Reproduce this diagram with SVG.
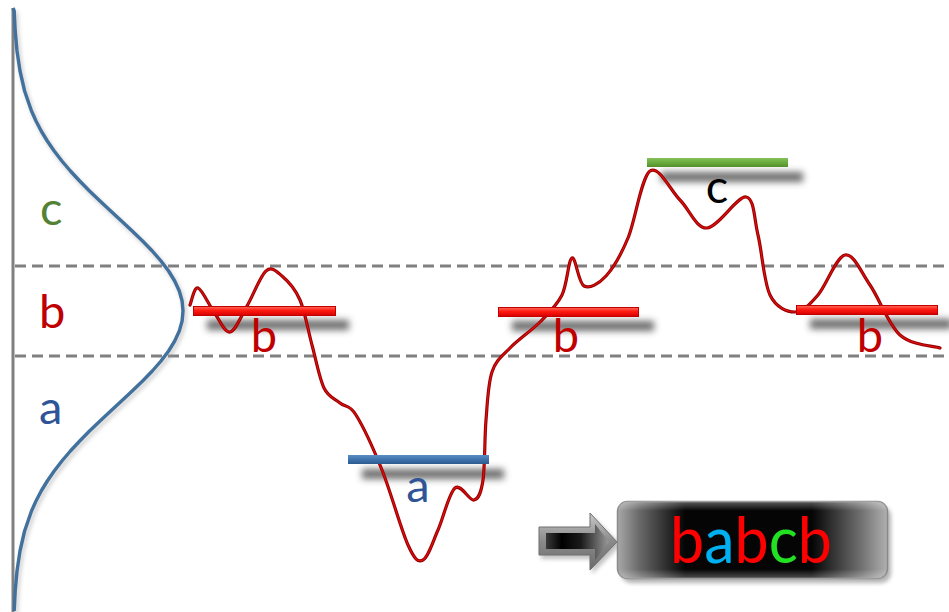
<svg xmlns="http://www.w3.org/2000/svg" width="949" height="612" viewBox="0 0 949 612">
  <style>
    .lbl { font-family: Lato, "Liberation Sans", sans-serif; font-size: 47px; }
    .dash { stroke: #808080; stroke-width: 3; stroke-dasharray: 11 6; fill: none; }
    .shadow { fill: #4a4a4a; opacity: 0.8; filter: url(#blur); }
  </style>
  <defs>
    <filter id="blur" x="-20%" y="-150%" width="140%" height="400%">
      <feGaussianBlur stdDeviation="3.5"/>
    </filter>
    <filter id="soft" x="-20%" y="-20%" width="140%" height="140%">
      <feGaussianBlur stdDeviation="2"/>
    </filter>
    <linearGradient id="redBar" x1="0" y1="0" x2="0" y2="1">
      <stop offset="0" stop-color="#ff6a5a"/>
      <stop offset="0.45" stop-color="#ff1a10"/>
      <stop offset="1" stop-color="#d40000"/>
    </linearGradient>
    <linearGradient id="blueBar" x1="0" y1="0" x2="0" y2="1">
      <stop offset="0" stop-color="#5b8cc4"/>
      <stop offset="0.5" stop-color="#3f72ad"/>
      <stop offset="1" stop-color="#2c5a8e"/>
    </linearGradient>
    <linearGradient id="greenBar" x1="0" y1="0" x2="0" y2="1">
      <stop offset="0" stop-color="#86c05a"/>
      <stop offset="0.5" stop-color="#6aab3e"/>
      <stop offset="1" stop-color="#548f2e"/>
    </linearGradient>
    <linearGradient id="boxFill" x1="0" y1="0" x2="1" y2="0">
      <stop offset="0" stop-color="#a8a8a8"/>
      <stop offset="0.08" stop-color="#6a6a6a"/>
      <stop offset="0.25" stop-color="#050505"/>
      <stop offset="0.72" stop-color="#050505"/>
      <stop offset="0.9" stop-color="#6f6f6f"/>
      <stop offset="1" stop-color="#b0b0b0"/>
    </linearGradient>
    <linearGradient id="boxGloss" x1="0" y1="0" x2="0" y2="1">
      <stop offset="0" stop-color="#fff" stop-opacity="0.35"/>
      <stop offset="0.12" stop-color="#fff" stop-opacity="0"/>
      <stop offset="0.88" stop-color="#fff" stop-opacity="0"/>
      <stop offset="1" stop-color="#fff" stop-opacity="0.3"/>
    </linearGradient>
    <linearGradient id="arrowOuter" x1="0" y1="0" x2="0" y2="1">
      <stop offset="0" stop-color="#c8c8c8"/>
      <stop offset="0.5" stop-color="#8a8a8a"/>
      <stop offset="1" stop-color="#6a6a6a"/>
    </linearGradient>
    <linearGradient id="arrowInner" x1="0" y1="0" x2="1" y2="0">
      <stop offset="0" stop-color="#3a3a3a"/>
      <stop offset="0.25" stop-color="#000"/>
      <stop offset="0.55" stop-color="#1a1a1a"/>
      <stop offset="1" stop-color="#9a9a9a"/>
    </linearGradient>
    <path id="gaussLine" d="M13,8 L14.2,11 L15.2,31 L17,51 L20,71 L24.6,91 L31.5,111 L36,121 L41.2,131 L47.3,141 L54.2,151 L61.9,161 L70.4,171 L79.7,181 L89.5,191 L100,201 L110.7,211 L121.5,221 L132.2,231 L142.6,241 L152.3,251 L161,261 L168.6,271 L174.7,281 L179.3,291 L182.1,301 L183,311 L182.1,321 L179.3,331 L174.7,341 L168.6,351 L161,361 L152.3,371 L142.6,381 L132.2,391 L121.5,401 L110.7,411 L100,421 L89.5,431 L79.7,441 L70.4,451 L61.9,461 L54.2,471 L47.3,481 L41.2,491 L36,501 L31.5,511 L24.6,531 L20,551 L17,571 L15.2,591 L14.2,611"/>
    <path id="traceLine" d="M190,305 C191.3,302.2 194,286.8 198,288 C202,289.2 208.7,304.7 214,312 C219.3,319.3 224.5,333 230,332 C235.5,331 241,316.2 247,306 C253,295.8 260.2,276 266,271 C271.8,266 276.3,271.2 282,276 C287.7,280.8 295,288.5 300,300 C305,311.5 308,330.3 312,345 C316,359.7 319.3,378.3 324,388 C328.7,397.7 334.7,398.5 340,403 C345.3,407.5 349,403.8 356,415 C363,426.2 373.3,448.3 382,470 C390.7,491.7 401.2,530 408,545 C414.8,560 418,562.5 423,560 C428,557.5 432.7,542 438,530 C443.3,518 449,493 455,488 C461,483 469.3,501.3 474,500 C478.7,498.7 481,493.3 483,480 C485,466.7 484.5,438 486,420 C487.5,402 488,384 492,372 C496,360 502,356.3 510,348 C518,339.7 531.3,330.8 540,322 C548.7,313.2 556.7,305.7 562,295 C567.3,284.3 568.3,259.5 572,258 C575.7,256.5 578.3,283 584,286 C589.7,289 598.7,284 606,276 C613.3,268 620.7,255.5 628,238 C635.3,220.5 641.3,177.3 650,171 C658.7,164.7 670.5,190.5 680,200 C689.5,209.5 696,228.5 707,228 C718,227.5 737.5,195.8 746,197 C754.5,198.2 754,218.7 758,235 C762,251.3 763.8,282.2 770,295 C776.2,307.8 787,312 795,312 C803,312 809.7,304.5 818,295 C826.3,285.5 836.3,256.7 845,255 C853.7,253.3 860.8,271.7 870,285 C879.2,298.3 888.3,324.5 900,335 C911.7,345.5 933.3,345.8 940,348"/>
  </defs>

  <rect width="949" height="612" fill="#ffffff"/>

  <!-- value axis and band boundaries -->
  <g id="axis">
    <line x1="13" y1="8" x2="13" y2="612" stroke="#808080" stroke-width="3"/>
    <line class="dash" x1="15" y1="266" x2="949" y2="266"/>
    <line class="dash" x1="15" y1="356" x2="949" y2="356"/>
  </g>

  <!-- distribution curve -->
  <g id="distribution" fill="none" stroke-linejoin="round">
    <use href="#gaussLine" stroke="#999" stroke-width="3" opacity="0.6" transform="translate(2,3)" filter="url(#soft)"/>
    <use href="#gaussLine" stroke="#41719c" stroke-width="3.4"/>
  </g>

  <!-- band labels -->
  <g id="band-labels" class="lbl">
    <text x="40" y="225" fill="#548235">c</text>
    <text x="39" y="328" fill="#c00000">b</text>
    <text x="39" y="424" fill="#2f5597">a</text>
  </g>

  <!-- bar shadows -->
  <g id="shadows">
    <rect class="shadow" x="207" y="320" width="142" height="10"/>
    <rect class="shadow" x="362" y="469" width="142" height="10"/>
    <rect class="shadow" x="512" y="321" width="142" height="10"/>
    <rect class="shadow" x="661" y="172" width="142" height="10"/>
    <rect class="shadow" x="810" y="319" width="142" height="10"/>
  </g>

  <!-- signal trace -->
  <g id="signal" fill="none" stroke-linecap="round" stroke-linejoin="round">
    <use href="#traceLine" stroke="#990000" stroke-width="3.2"/>
    <use href="#traceLine" stroke="#e01010" stroke-width="1.1"/>
  </g>

  <!-- level bars with their symbols -->
  <g id="bar-b1">
    <rect x="193.5" y="306.5" width="142" height="9" fill="url(#redBar)" stroke="#c00000" stroke-width="1"/>
    <text class="lbl" x="264" y="352" fill="#c00000" text-anchor="middle">b</text>
  </g>
  <g id="bar-a">
    <rect x="348" y="455" width="141" height="9" fill="url(#blueBar)"/>
    <text class="lbl" x="418" y="502" fill="#2f5597" text-anchor="middle">a</text>
  </g>
  <g id="bar-b2">
    <rect x="498.5" y="307.5" width="140" height="9" fill="url(#redBar)" stroke="#c00000" stroke-width="1"/>
    <text class="lbl" x="566" y="352" fill="#c00000" text-anchor="middle">b</text>
  </g>
  <g id="bar-c">
    <rect x="647" y="158" width="141" height="9" fill="url(#greenBar)"/>
    <text class="lbl" x="717" y="203" fill="#000" text-anchor="middle">c</text>
  </g>
  <g id="bar-b3">
    <rect x="796.5" y="305.5" width="141" height="9" fill="url(#redBar)" stroke="#c00000" stroke-width="1"/>
    <text class="lbl" x="870" y="352" fill="#c00000" text-anchor="middle">b</text>
  </g>

  <!-- output arrow -->
  <g id="arrow">
    <polygon points="541,530 592,530 592,516 621,545 592,574 592,559 541,559" fill="#777" opacity="0.45" filter="url(#soft)"/>
    <polygon points="539,527 590,527 590,513 617,542 590,570 590,555 539,555" fill="url(#arrowOuter)" stroke="#707070" stroke-width="1"/>
    <polygon points="546,533 595,533 595,524 609,542 595,560 595,549 546,549" fill="url(#arrowInner)"/>
  </g>

  <!-- resulting symbol string -->
  <g id="result">
    <rect x="621" y="506" width="270" height="77" rx="10" fill="#666" opacity="0.5" filter="url(#soft)"/>
    <rect x="617.5" y="501.5" width="270" height="77" rx="10" fill="url(#boxFill)" stroke="#8a8a8a" stroke-width="1.5"/>
    <rect x="617.5" y="501.5" width="270" height="77" rx="10" fill="url(#boxGloss)"/>
    <text x="670" y="563" font-family="Lato, 'Liberation Sans', sans-serif" font-size="64" textLength="162" lengthAdjust="spacingAndGlyphs"><tspan fill="#ff0000">b</tspan><tspan fill="#00b0f0">a</tspan><tspan fill="#ff0000">b</tspan><tspan fill="#22e022">c</tspan><tspan fill="#ff0000">b</tspan></text>
  </g>
</svg>
